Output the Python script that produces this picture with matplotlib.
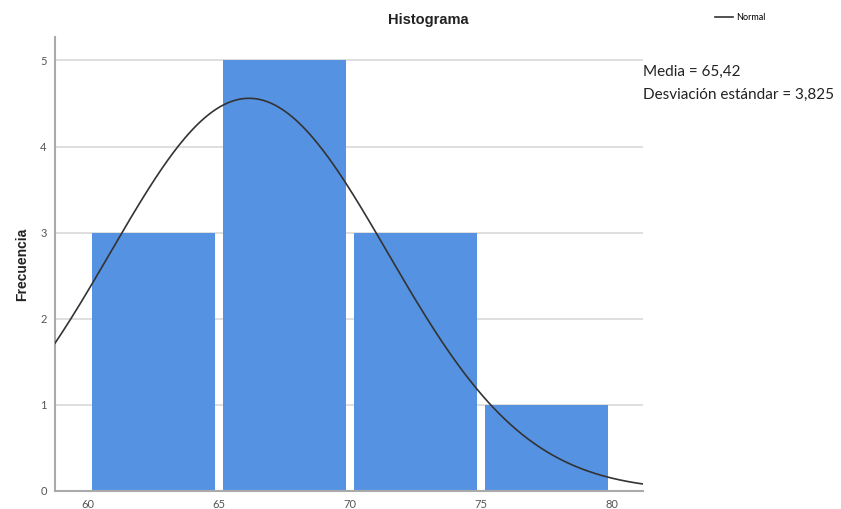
import numpy as np
import matplotlib.pyplot as plt

# datos del histograma
bin_left = [60, 65, 70, 75]
frecuencia = [3, 5, 3, 1]
bin_width = 5
media_txt = "65,42"
desv_txt = "3,825"

# curva normal tal como aparece en la imagen
curva_mu = 66.15
curva_sd = 5.3
curva_pico = 4.56

x_ticks = [60, 65, 70, 75, 80]
y_ticks = [0, 1, 2, 3, 4, 5]

plt.rcParams['font.family'] = ['Lato', 'DejaVu Sans']

fig = plt.figure(figsize=(8.41, 5.09), dpi=100)
ax = fig.add_axes([0.0654, 0.0354, 0.6992, 0.8916])

centros = [b + bin_width / 2 for b in bin_left]
ax.bar(centros, frecuencia, width=bin_width - 0.3, color='#5592E2', zorder=2)

xs = np.linspace(58.74, 81.2, 300)
ys = curva_pico * np.exp(-0.5 * ((xs - curva_mu) / curva_sd) ** 2)
ax.plot(xs, ys, color='#333333', lw=1.2, zorder=3, label='Normal')

ax.set_xlim(58.74, 81.2)
ax.set_ylim(0, 5.27)
ax.set_xticks(x_ticks)
ax.set_yticks(y_ticks)
ax.tick_params(length=0, labelsize=8, colors='#555555', pad=6)
ax.yaxis.grid(True, color='#d9d9d9', lw=1.2, zorder=0)
ax.set_axisbelow(True)
for s in ['top', 'right']:
    ax.spines[s].set_visible(False)
for s in ['left', 'bottom']:
    ax.spines[s].set_color('#aaaaaa')
    ax.spines[s].set_linewidth(1.5)

ax.set_ylabel('Frecuencia', fontsize=10, fontweight='bold', color='#222222',
              family=['Liberation Sans', 'DejaVu Sans'], labelpad=8)
fig.text(0.509, 0.96, 'Histograma', ha='center', va='center', fontsize=10.5,
         fontweight='bold', color='#222222', family=['Liberation Sans', 'DejaVu Sans'])

fig.legend(loc='center left', bbox_to_anchor=(0.845, 0.965), frameon=False,
           fontsize=6.5, handlelength=2.0, handletextpad=0.3, borderpad=0)

fig.text(0.765, 0.858, 'Media = ' + media_txt, fontsize=11, color='#222222', va='center')
fig.text(0.765, 0.813, 'Desviación estándar = ' + desv_txt, fontsize=11,
         color='#222222', va='center')

fig.savefig('out.png', dpi=100)
